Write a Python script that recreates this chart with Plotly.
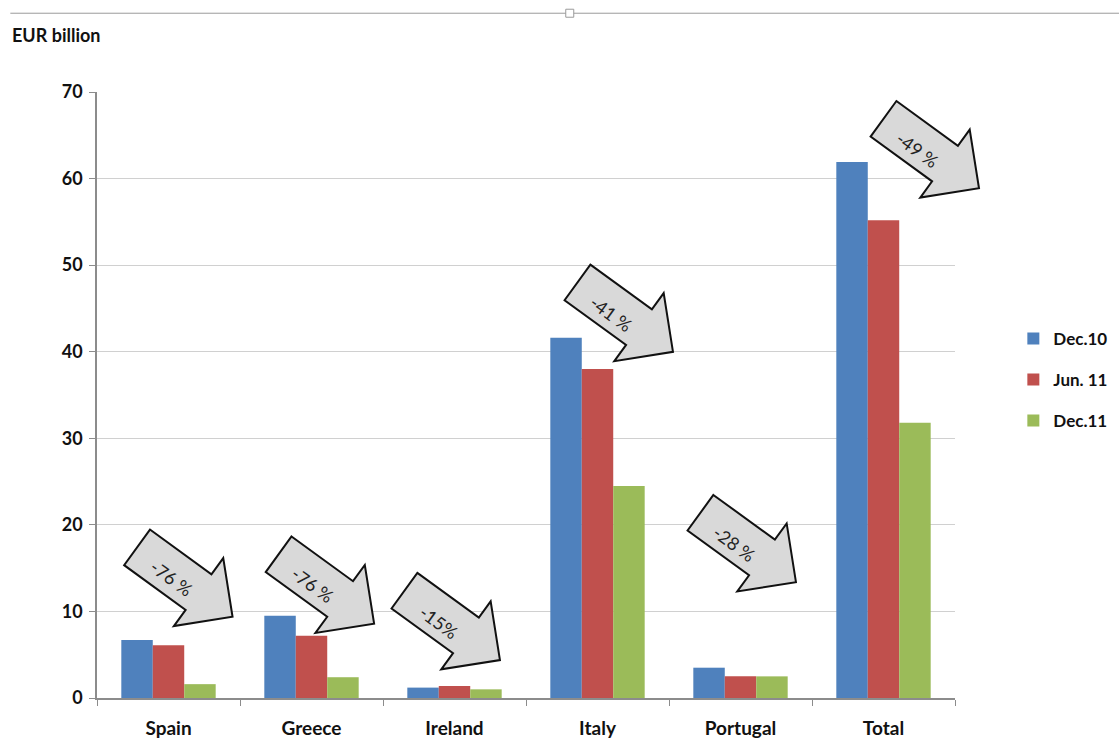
import math
import plotly.graph_objects as go

categories = ["Spain", "Greece", "Ireland", "Italy", "Portugal", "Total"]
dec10 = [6.7, 9.5, 1.2, 41.6, 3.5, 61.9]
jun11 = [6.1, 7.2, 1.4, 38.0, 2.5, 55.2]
dec11 = [1.6, 2.4, 1.0, 24.5, 2.5, 31.8]
series_names = ["Dec.10", "Jun. 11", "Dec.11"]
colors = ["#4F81BD", "#C0504D", "#9BBB59"]

# arrow callouts: label, tail-centre anchor (category index, value)
arrow_labels = ["-76 %", "-76 %", "-15%", "-41 %", "-28 %", "-49 %"]
arrow_x = [-0.22, 0.77, 1.65, 2.86, 3.72, 5.0]
arrow_y = [17.4, 16.6, 12.4, 48.0, 21.4, 66.9]

FONT = "Lato"
xs = list(range(len(categories)))
x_range = [-0.5, len(categories) - 0.5]
y_range = [0, 70]

fig = go.Figure()
for i, (name, vals) in enumerate(zip(series_names, [dec10, jun11, dec11])):
    fig.add_trace(go.Bar(x=xs, y=vals, name=name, marker_color=colors[i],
                         marker_line_width=0, legendgroup=name))

# arrow geometry (pixels)
ang = math.radians(36)
shaft_len, head_len, shaft_hw, head_hw = 76, 42, 22, 42
local = [(0, -shaft_hw), (shaft_len, -shaft_hw), (shaft_len, -head_hw),
         (shaft_len + head_len, 0), (shaft_len, head_hw), (shaft_len, shaft_hw), (0, shaft_hw)]

def to_px(u, v):
    dx = u * math.cos(ang) - v * math.sin(ang)
    dy = u * math.sin(ang) + v * math.cos(ang)
    return dx, -dy  # plotly pixel y is positive upwards

path = "M " + " L ".join(f"{to_px(u, v)[0]:.1f},{to_px(u, v)[1]:.1f}" for u, v in local) + " Z"
tx, ty = to_px(46, 5)

def xp(v):
    return (v - x_range[0]) / (x_range[1] - x_range[0])

def yp(v):
    return (v - y_range[0]) / (y_range[1] - y_range[0])

for lab, ax_, ay_ in zip(arrow_labels, arrow_x, arrow_y):
    fig.add_shape(type="path", xref="paper", yref="paper", xsizemode="pixel", ysizemode="pixel",
                  xanchor=xp(ax_), yanchor=yp(ay_), path=path, layer="above",
                  fillcolor="#D9D9D9", line=dict(color="#111111", width=2))
    fig.add_annotation(x=xp(ax_), y=yp(ay_), xref="paper", yref="paper", text=lab, showarrow=False,
                       xanchor="center", yanchor="middle",
                       textangle=36, xshift=tx, yshift=ty,
                       font=dict(family=FONT, size=18, color="#222222"))

fig.add_annotation(x=-0.101, y=1.094, xref="paper", yref="paper", text="<b>EUR billion</b>",
                   showarrow=False, xanchor="left", yanchor="middle",
                   font=dict(family=FONT, size=18, color="#111111"))
# frame line at the top of the picture, with its small handle
fig.add_shape(type="line", xref="paper", yref="paper", x0=-0.101, x1=1.2, y0=1.130, y1=1.130,
              line=dict(color="#9A9A9A", width=1))
fig.add_shape(type="rect", xref="paper", yref="paper", xsizemode="pixel", ysizemode="pixel",
              xanchor=0.551, yanchor=1.130, x0=-4, x1=4, y0=-4, y1=4,
              fillcolor="white", line=dict(color="#9A9A9A", width=1))

fig.update_layout(
    width=1119, height=746,
    margin=dict(l=97, r=164, t=92, b=48, autoexpand=False),
    paper_bgcolor="white", plot_bgcolor="white",
    barmode="group", bargap=0.34, bargroupgap=0,
    font=dict(family=FONT, color="#111111"),
    legend=dict(x=1.068, y=0.525, xanchor="left", yanchor="middle",
                font=dict(family=FONT, size=17, weight="bold", color="#111111"),
                tracegroupgap=16, itemwidth=30),
    showlegend=True,
)
fig.update_xaxes(
    range=x_range, tickmode="array", tickvals=xs, ticktext=categories,
    ticks="", showgrid=False, showline=True, linecolor="#8C8C8C", linewidth=1.5,
    tickfont=dict(family=FONT, size=19, weight="bold", color="#111111"),
    ticklabelstandoff=12,
    minor=dict(tickmode="array", tickvals=[i + 0.5 for i in range(-1, 6)], ticks="outside",
               ticklen=6, tickcolor="#8C8C8C", showgrid=False),
    zeroline=False,
)
fig.update_yaxes(
    range=y_range, dtick=10, showgrid=True, gridcolor="#D0D0D0", gridwidth=1.2,
    showline=True, linecolor="#8C8C8C", linewidth=1.5, ticks="outside", ticklen=6,
    tickcolor="#8C8C8C", zeroline=False, ticklabelstandoff=3,
    tickfont=dict(family=FONT, size=18, weight="bold", color="#111111"),
)

fig.write_html("out.html")
